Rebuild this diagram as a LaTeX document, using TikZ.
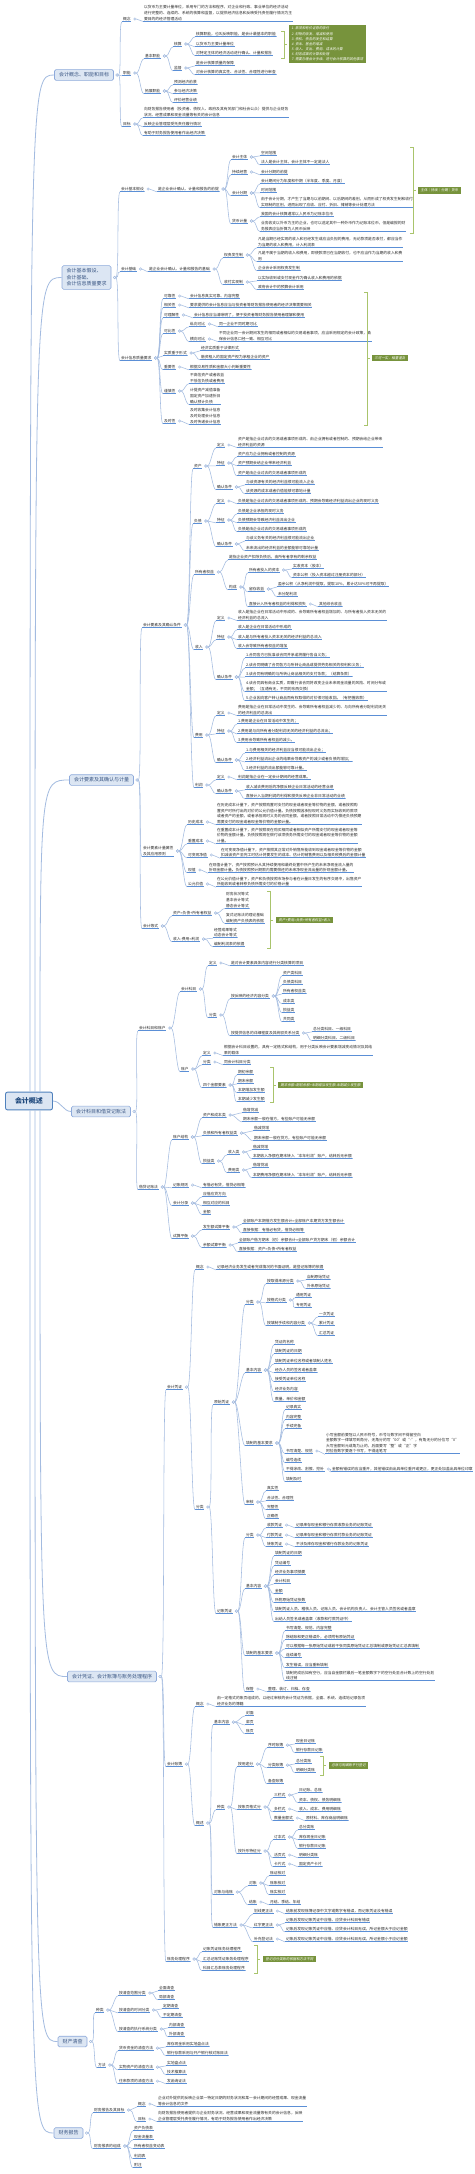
\documentclass[tikz,border=0pt]{standalone}
\usepackage{fontspec}
\newfontfamily\cjk{Noto Sans CJK SC}
\newfontfamily\cjki[FakeSlant=0.18]{Noto Sans CJK SC}
\definecolor{ulc}{HTML}{5B8FD6}
\definecolor{cnc}{HTML}{A3BBE0}
\definecolor{tpf}{HTML}{DCE6F3}
\definecolor{tpd}{HTML}{8EAADB}
\definecolor{tpt}{HTML}{3A5683}
\definecolor{rtd}{HTML}{4F81BD}
\definecolor{rtt}{HTML}{1F497D}
\definecolor{gbox}{HTML}{77933C}
\definecolor{brc}{HTML}{A9C46C}
\definecolor{txc}{HTML}{2B2B2B}
\tikzset{
 tx/.style={font=\cjk\fontsize{3.8}{5.6}\selectfont, text=txc, anchor=west, inner xsep=0.8pt, inner ysep=0.9pt, align=left,
   path picture={\draw[draw=ulc, line width=0.7pt] ([yshift=0.35pt]path picture bounding box.south west) -- ([yshift=0.35pt]path picture bounding box.south east);}},
 cnx/.style={draw=cnc, line width=0.55pt},
 mkr/.style={draw=cnc, line width=0.45pt, fill=white},
 topic/.style={draw=tpd, fill=tpf, rounded corners=1.5pt, font=\cjk\fontsize{5}{6.5}\selectfont, text=tpt, inner xsep=4.5pt, inner ysep=3pt, align=left, line width=0.6pt},
 rootn/.style={draw=rtd, line width=0.9pt, fill=tpf, rounded corners=2pt, font=\cjk\bfseries\fontsize{7}{8}\selectfont, text=rtt, inner xsep=9.5pt, inner ysep=5.5pt},
 lab/.style={fill=gbox, text=white, font=\cjki\fontsize{3.4}{5.1}\selectfont, inner xsep=2.5pt, inner ysep=1.8pt, anchor=west, align=left},
 brk/.style={draw=brc, line width=0.6pt},
 rc/.style={draw=cnc, line width=0.8pt},
}
\newcommand\MN[5]{\node[tx] (#1) at (#3,#4) {#5};\draw[cnx] ([xshift=4.6pt]#2.east) .. controls +(3.5,0) and +(-3.5,0) .. (#1.south west);\draw[mkr] ([xshift=3.3pt]#2.east) circle[radius=1.2pt];}
\newcommand\BR[4]{\draw[brk] (#1,#2) -- (#1+3,#2) -- (#1+3,#3) -- (#1,#3); \draw[brk] (#1+3,#4) -- (#1+6,#4);}
\begin{document}
\begin{tikzpicture}[x=1pt,y=-1pt]
\fill[white] (0,0) rectangle (474,2174);
\useasboundingbox (0,0) rectangle (474,2174);
% root and topics
\node[rootn] (root) at (29,1101) {会计概述};
\node[topic] (t1) at (84,75) {会计概念、职能和目标};
\node[topic] (t2) at (86.5,277.5) {会计基本假设、\\会计基础、\\会计信息质量要求};
\node[topic] (t3) at (101.5,780) {会计要素及其确认与计量};
\node[topic] (t4) at (101,1111.5) {会计科目和借贷记账法};
\node[topic] (t5) at (112,1676.5) {会计凭证、会计账簿与账务处理程序};
\node[topic] (t6) at (72.5,2041.5) {财产清查};
\node[topic] (t7) at (68.5,2133) {财务报告};
\coordinate (r1) at ([xshift=1pt]root.north);
\coordinate (r2) at ([xshift=6pt]root.north);
\coordinate (r3) at ([xshift=11pt]root.north);
\coordinate (r5) at ([xshift=11pt]root.south);
\coordinate (r6) at ([xshift=6pt]root.south);
\coordinate (r7) at ([xshift=1pt]root.south);
\draw[rc] (r1) .. controls (r1 |- t1.west) .. (t1.west);
\draw[rc] (r2) .. controls (r2 |- t2.west) .. (t2.west);
\draw[rc] (r3) .. controls (r3 |- t3.west) .. (t3.west);
\draw[rc] (root.east) .. controls +(8,0) and +(-8,0) .. (t4.west);
\draw[rc] (r5) .. controls (r5 |- t5.west) .. (t5.west);
\draw[rc] (r6) .. controls (r6 |- t6.west) .. (t6.west);
\draw[rc] (r7) .. controls (r7 |- t7.west) .. (t7.west);
% ---------- topic 1
\MN{a1}{t1}{122}{19}{概念}
\MN{a1c}{a1}{143}{13}{以货币为主要计量单位，采用专门的方法和程序，对企业和行政、事业单位的经济活动\\进行完整的、连续的、系统的核算和监督，以提供经济信息和反映受托责任履行情况为主\\要目的的经济管理活动}
\MN{a2}{t1}{122}{73}{职能}
\MN{a21}{a2}{144}{56}{基本职能}
\MN{a211}{a21}{173}{44}{核算}
\MN{a2111}{a211}{195}{34}{核算职能，也叫反映职能，是会计最基本的职能}
\MN{a2112}{a211}{195}{44}{以货币为主要计量单位}
\MN{a2113}{a211}{195}{53}{对特定主体的经济活动进行确认、计量和报告}
\MN{a212}{a21}{173}{68}{监督}
\MN{a2121}{a212}{195}{63}{是会计核算质量的保障}
\MN{a2122}{a212}{195}{72}{对会计核算的真实性、合法性、合理性进行审查}
\MN{a22}{a2}{144}{91}{拓展职能}
\MN{a221}{a22}{173}{82}{预测经济前景}
\MN{a222}{a22}{173}{91}{参与经济决策}
\MN{a223}{a22}{173}{100}{评价经营业绩}
\BR{281}{31}{58}{44}
\node[lab] (L1) at (289,44) {1.\ 款项和有价证券的收付\\2.\ 财物的收发、增减和使用\\3.\ 债权、债务的发生和结算\\4.\ 资本、基金的增减\\5.\ 收入、支出、费用、成本的计算\\6.\ 财务成果的计算和处理\\7.\ 需要办理会计手续、进行会计核算的其他事项};
\MN{a3}{t1}{122}{124}{目标}
\MN{a31}{a3}{143}{112}{向财务报告使用者（投资者、债权人、政府及其有关部门和社会公众）提供与企业财务\\状况、经营成果和现金流量等有关的会计信息}
\MN{a32}{a3}{143}{124}{反映企业管理层受托责任履行情况}
\MN{a33}{a3}{143}{133}{有助于财务报告使用者作出经济决策}
% ---------- topic 2
\MN{b1}{t2}{120}{189}{会计基本假设}
\MN{b1a}{b1}{157}{189}{是企业会计确认、计量和报告的前提}
\MN{b11}{b1a}{231}{157}{会计主体}
\MN{b111}{b11}{260}{153}{空间范围}
\MN{b112}{b11}{260}{162}{法人是会计主体，会计主体不一定是法人}
\MN{b12}{b1a}{231}{172}{持续经营}
\MN{b121}{b12}{260}{172}{会计分期的前提}
\MN{b13}{b1a}{231}{193}{会计分期}
\MN{b131}{b13}{260}{181}{会计期间分为年度和中期（半年度、季度、月度）}
\MN{b132}{b13}{260}{190}{时间范围}
\MN{b133}{b13}{260}{202}{由于会计分期，才产生了当期与以前期间、以后期间的差别，从而形成了权责发生制和收付\\实现制的区别，进而出现了应收、应付、折旧、摊销等会计处理方法}
\MN{b14}{b1a}{231}{221}{货币计量}
\MN{b141}{b14}{260}{214}{我国的会计核算通常以人民币为记账本位币}
\MN{b142}{b14}{260}{226}{业务收支以外币为主的企业，也可以选定其中一种外币作为记账本位币，但是编报的财\\务报表应当折算为人民币反映}
\BR{410}{147}{233}{190}
\node[lab] (L2) at (418,190) {主体｜持续｜分期｜货币};
\MN{b2}{t2}{120}{269}{会计基础}
\MN{b2a}{b2}{148}{269}{是企业会计确认、计量和报告的基础}
\MN{b21}{b2a}{223}{255}{权责发生制}
\MN{b211}{b21}{257}{242}{凡是当期已经实现的收入和已经发生或应当负担的费用，无论款项是否收付，都应当作\\为当期的收入和费用，计入利润表}
\MN{b212}{b21}{257}{256}{凡是不属于当期的收入和费用，即使款项已在当期收付，也不应当作为当期的收入和费\\用}
\MN{b213}{b21}{257}{268}{企业会计采用权责发生制}
\MN{b22}{b2a}{223}{282}{收付实现制}
\MN{b221}{b22}{257}{278}{以实际收到或支付现金作为确认收入和费用的依据}
\MN{b222}{b22}{257}{287}{政府会计中的预算会计采用}
\MN{b3}{t2}{120}{358}{会计信息质量要求}
\MN{b31}{b3}{163}{296}{可靠性}
\MN{b311}{b31}{189}{296}{会计信息真实可靠、内容完整}
\MN{b32}{b3}{163}{305}{相关性}
\MN{b321}{b32}{189}{305}{要求提供的会计信息应当与投资者等财务报告使用者的经济决策需要相关}
\MN{b33}{b3}{163}{315}{可理解性}
\MN{b331}{b33}{193}{315}{会计信息应当清晰明了，便于投资者等财务报告使用者理解和使用}
\MN{b34}{b3}{163}{331}{可比性}
\MN{b341}{b34}{189}{324}{纵向可比}
\MN{b3411}{b341}{218}{324}{同一企业不同时期可比}
\MN{b342}{b34}{189}{339}{横向可比}
\MN{b3421}{b342}{218}{336}{不同企业同一会计期间发生的相同或者相似的交易或者事项，应当采用规定的会计政策，确\\保会计信息口径一致、相互可比}
\MN{b35}{b3}{163}{353}{实质重于形式}
\MN{b351}{b35}{200}{348}{经济实质重于法律形式}
\MN{b352}{b35}{200}{357}{融资租入的固定资产视为承租企业的资产}
\MN{b36}{b3}{163}{367}{重要性}
\MN{b361}{b36}{189}{367}{根据交易性质和金额大小判断重要性}
\MN{b37}{b3}{163}{391}{谨慎性}
\MN{b371}{b37}{189}{378}{不高估资产或者收益\\不低估负债或者费用}
\MN{b372}{b37}{189}{396}{计提资产减值准备\\固定资产加速折旧\\确认预计负债}
\MN{b38}{b3}{163}{421}{及时性}
\MN{b381}{b38}{189}{416}{及时收集会计信息\\及时处理会计信息\\及时传递会计信息}
\BR{364}{292}{425}{358}
\node[lab] (L3) at (372,358) {三可一实，相重谨及};
% ---------- topic 3
\MN{c1}{t3}{142}{625}{会计要素及其确认条件}
\MN{c11}{c1}{193}{466}{资产}
\MN{c111}{c11}{216}{445}{定义}
\MN{c1111}{c111}{237}{442}{资产是指企业过去的交易或者事项形成的、由企业拥有或者控制的、预期会给企业带来\\经济利益的资源}
\MN{c112}{c11}{216}{463}{特征}
\MN{c1121}{c112}{237}{454}{资产应为企业拥有或者控制的资源}
\MN{c1122}{c112}{237}{463}{资产预期会给企业带来经济利益}
\MN{c1123}{c112}{237}{473}{资产是由企业过去的交易或者事项形成的}
\MN{c113}{c11}{216}{487}{确认条件}
\MN{c1131}{c113}{245}{482}{与该资源有关的经济利益很可能流入企业}
\MN{c1132}{c113}{245}{491}{该资源的成本或者价值能够可靠地计量}
\MN{c12}{c1}{193}{521}{负债}
\MN{c121}{c12}{216}{501}{定义}
\MN{c1211}{c121}{237}{501}{负债是指企业过去的交易或者事项形成的、预期会导致经济利益流出企业的现时义务}
\MN{c122}{c12}{216}{520}{特征}
\MN{c1221}{c122}{237}{511}{负债是企业承担的现时义务}
\MN{c1222}{c122}{237}{520}{负债预期会导致经济利益流出企业}
\MN{c1223}{c122}{237}{529}{负债是由企业过去的交易或者事项形成的}
\MN{c123}{c12}{216}{544}{确认条件}
\MN{c1231}{c123}{245}{538}{与该义务有关的经济利益很可能流出企业}
\MN{c1232}{c123}{245}{548}{未来流出的经济利益的金额能够可靠地计量}
\MN{c13}{c1}{194}{572}{所有者权益}
\MN{c131}{c13}{228}{557}{是指企业资产扣除负债后，由所有者享有的剩余权益}
\MN{c132}{c13}{228}{587}{构成}
\MN{c1321}{c132}{248}{570}{所有者投入的资本}
\MN{c13211}{c1321}{292}{566}{实收资本（股本）}
\MN{c13212}{c1321}{292}{575}{资本公积（投入资本超过注册资本的部分）}
\MN{c1322}{c132}{248}{589}{留存收益}
\MN{c13221}{c1322}{277}{584}{盈余公积（从净利润中提取，提取10\%，累计达50\%可不再提取）}
\MN{c13222}{c1322}{277}{594}{未分配利润}
\MN{c1323}{c132}{248}{604}{直接计入所有者权益的利得和损失}
\MN{c13231}{c1323}{318}{604}{其他综合收益}
\MN{c14}{c1}{194}{647}{收入}
\MN{c141}{c14}{216}{618}{定义}
\MN{c1411}{c141}{237}{615}{收入是指企业在日常活动中形成的、会导致所有者权益增加的、与所有者投入资本无关的\\经济利益的总流入}
\MN{c142}{c14}{216}{637}{特征}
\MN{c1421}{c142}{237}{627}{收入是企业在日常活动中形成的}
\MN{c1422}{c142}{237}{637}{收入是与所有者投入资本无关的经济利益的总流入}
\MN{c1423}{c142}{237}{646}{收入会导致所有者权益的增加}
\MN{c143}{c14}{216}{677}{确认条件}
\MN{c1431}{c143}{245}{655}{1.合同各方已批准该合同并承诺将履行各自义务；}
\MN{c1432}{c143}{245}{665}{2.该合同明确了合同各方与所转让商品或提供劳务相关的权利和义务；}
\MN{c1433}{c143}{245}{674}{3.该合同有明确的与所转让商品相关的支付条款；（结算条款）}
\MN{c1434}{c143}{245}{686}{4.该合同具有商业实质，即履行该合同将改变企业未来现金流量的风险、时间分布或\\金额；（互通有无，不同的东西交换）}
\MN{c1435}{c143}{245}{698}{5.企业因向客户转让商品而有权取得的对价很可能收回。（有把握收款）}
\MN{c15}{c1}{194}{735}{费用}
\MN{c151}{c15}{216}{713}{定义}
\MN{c1511}{c151}{237}{710}{费用是指企业在日常活动中发生的、会导致所有者权益减少的、与向所有者分配利润无关\\的经济利益的总流出}
\MN{c152}{c15}{216}{731}{特征}
\MN{c1521}{c152}{237}{721}{1.费用是企业在日常活动中发生的；}
\MN{c1522}{c152}{237}{731}{2.费用是与向所有者分配利润无关的经济利益的总流出；}
\MN{c1523}{c152}{237}{740}{3.费用会导致所有者权益的减少。}
\MN{c153}{c15}{216}{760}{确认条件}
\MN{c1531}{c153}{245}{750}{1.与费用相关的经济利益应当很可能流出企业；}
\MN{c1532}{c153}{245}{759}{2.经济利益流出企业的结果会导致资产的减少或者负债的增加；}
\MN{c1533}{c153}{245}{768}{3.经济利益的流出额能够可靠计量。}
\MN{c16}{c1}{194}{785}{利润}
\MN{c161}{c16}{216}{777}{定义}
\MN{c1611}{c161}{237}{777}{利润是指企业在一定会计期间的经营成果。}
\MN{c162}{c16}{216}{791}{确认条件}
\MN{c1621}{c162}{245}{787}{收入减去费用后的净额反映企业日常活动的经营业绩}
\MN{c1622}{c162}{245}{796}{直接计入当期利润的利得和损失反映企业非日常活动的业绩}
\MN{c2}{t3}{142}{851}{会计要素计量属性\\及其应用原则}
\MN{c21}{c2}{187}{822}{历史成本}
\MN{c211}{c21}{216}{813.5}{在历史成本计量下，资产按照购置时支付的现金或者现金等价物的金额，或者按照购\\置资产时所付出的对价的公允价值计量。负债按照因承担现时义务而实际收到的款项\\或者资产的金额，或者承担现时义务的合同金额，或者按照日常活动中为偿还负债预期\\需要支付的现金或者现金等价物的金额计量。}
\MN{c22}{c2}{187}{841}{重置成本}
\MN{c221}{c22}{216}{835.5}{在重置成本计量下，资产按照现在购买相同或者相似资产所需支付的现金或者现金等\\价物的金额计量。负债按照现在偿付该项债务所需支付的现金或者现金等价物的金额\\计量。}
\MN{c23}{c2}{187}{855}{可变现净值}
\MN{c231}{c23}{220}{852.5}{在可变现净值计量下，资产按照其正常对外销售所能收到现金或者现金等价物的金额\\扣减该资产至完工时估计将要发生的成本、估计的销售费用以及相关税费后的金额计量}
\MN{c24}{c2}{187}{870}{现值}
\MN{c241}{c24}{208}{867.5}{在现值计量下，资产按照预计从其持续使用和最终处置中所产生的未来净现金流入量的\\折现金额计量。负债按照预计期限内需要偿还的未来净现金流出量的折现金额计量。}
\MN{c25}{c2}{187}{884}{公允价值}
\MN{c251}{c25}{216}{881.5}{在公允价值计量下，资产和负债按照市场参与者在计量日发生的有序交易中，出售资产\\所能收到或者转移负债所需支付的价格计量}
\MN{c3}{t3}{142}{926}{会计等式}
\MN{c31}{c3}{172}{913}{资产=负债+所有者权益}
\MN{c311}{c31}{225}{900}{财务状况等式\\基本会计等式\\静态会计等式}
\MN{c312}{c31}{225}{918}{复式记账法的理论基础\\编制资产负债表的依据}
\MN{c32}{c3}{172}{939}{收入-费用=利润}
\MN{c321}{c32}{213}{932.5}{经营成果等式\\动态会计等式}
\MN{c322}{c32}{213}{944}{编制利润表的依据}
\BR{267}{891}{948}{920}
\node[lab] (L4) at (276,920) {资产+费用=负债+所有者权益+收入};
% ---------- topic 4
\MN{d1}{t4}{138}{1028}{会计科目和账户}
\MN{d11}{d1}{180}{989}{会计科目}
\MN{d111}{d11}{208}{963}{定义}
\MN{d1111}{d111}{230}{963}{是对会计要素具体内容进行分类核算的项目}
\MN{d112}{d11}{208}{1015}{分类}
\MN{d1121}{d112}{230}{996}{按反映的经济内容分类}
\MN{d11211}{d1121}{282}{973}{资产类科目}
\MN{d11212}{d1121}{282}{982}{负债类科目}
\MN{d11213}{d1121}{282}{991}{所有者权益类}
\MN{d11214}{d1121}{282}{1001}{成本类}
\MN{d11215}{d1121}{282}{1010}{损益类}
\MN{d11216}{d1121}{282}{1019}{共同类}
\MN{d1122}{d112}{230}{1033}{按提供信息的详细程度及其统驭关系分类}
\MN{d11221}{d1122}{312}{1029}{总分类科目、一级科目}
\MN{d11222}{d1122}{312}{1038}{明细分类科目、二级科目}
\MN{d12}{d1}{180}{1069}{账户}
\MN{d121}{d12}{202}{1053}{定义}
\MN{d1211}{d121}{223}{1050}{根据会计科目设置的，具有一定格式和结构，用于分类反映会计要素增减变动情况及其结\\果的载体}
\MN{d122}{d12}{202}{1062}{分类}
\MN{d1221}{d122}{223}{1062}{同会计科目分类}
\MN{d123}{d12}{202}{1085}{四个金额要素}
\MN{d1231}{d123}{237}{1072}{期初余额}
\MN{d1232}{d123}{237}{1081}{期末余额}
\MN{d1233}{d123}{237}{1090}{本期增加发生额}
\MN{d1234}{d123}{237}{1099}{本期减少发生额}
\BR{270}{1067}{1102}{1085}
\node[lab] (L5) at (278,1085) {期末余额=期初余额+本期增加发生额-本期减少发生额};
\MN{d2}{t4}{138}{1187}{借贷记账法}
\MN{d21}{d2}{172}{1137}{账户结构}
\MN{d211}{d21}{202}{1115}{资产和成本类}
\MN{d2111}{d211}{242}{1110}{借增贷减}
\MN{d2112}{d211}{242}{1119}{期末余额一般在借方，有些账户可能无余额}
\MN{d212}{d21}{202}{1133}{负债和所有者权益类}
\MN{d2121}{d212}{253}{1128}{借减贷增}
\MN{d2122}{d212}{253}{1138}{期末余额一般在贷方，有些账户可能无余额}
\MN{d213}{d21}{202}{1161}{损益类}
\MN{d2131}{d213}{227}{1152}{收入类}
\MN{d21311}{d2131}{252}{1147}{借减贷增}
\MN{d21312}{d2131}{252}{1156}{本期收入净额在期末转入“本年利润”账户，结转后无余额}
\MN{d2132}{d213}{227}{1170}{费用类}
\MN{d21321}{d2132}{252}{1165}{借增贷减}
\MN{d21322}{d2132}{252}{1175}{本期费用净额在期末转入“本年利润”账户，结转后无余额}
\MN{d22}{d2}{172}{1185}{记账规则}
\MN{d221}{d22}{202}{1185}{有借必有贷，借贷必相等}
\MN{d23}{d2}{172}{1203}{会计分录}
\MN{d231}{d23}{202}{1194}{应借应贷方向}
\MN{d232}{d23}{202}{1203}{相互对应的科目}
\MN{d233}{d23}{202}{1212}{金额}
\MN{d24}{d2}{172}{1236}{试算平衡}
\MN{d241}{d24}{202}{1227}{发生额试算平衡}
\MN{d2411}{d241}{242}{1221}{全部账户本期借方发生额合计=全部账户本期贷方发生额合计}
\MN{d2412}{d241}{242}{1230}{直接依据：有借必有贷，借贷必相等}
\MN{d242}{d24}{202}{1245}{余额试算平衡}
\MN{d2421}{d242}{238}{1240}{全部账户借方期末（初）余额合计=全部账户贷方期末（初）余额合计}
\MN{d2422}{d242}{238}{1249}{直接依据：资产=负债+所有者权益}
% ---------- topic 5
\MN{e0}{t5}{166}{1387}{会计凭证}
\MN{e1}{e0}{195}{1267}{概念}
\MN{e11}{e1}{216}{1267}{记录经济业务发生或者完成情况的书面证明，是登记账簿的依据}
\MN{e2}{e0}{195}{1507}{分类}
\MN{e21}{e2}{213}{1402}{原始凭证}
\MN{e211}{e21}{245}{1302}{分类}
\MN{e2111}{e211}{266}{1281}{按取得来源分类}
\MN{e21111}{e2111}{306}{1277}{自制原始凭证}
\MN{e21112}{e2111}{306}{1286}{外来原始凭证}
\MN{e2112}{e211}{266}{1300}{按格式分类}
\MN{e21121}{e2112}{295}{1295}{通用凭证}
\MN{e21122}{e2112}{295}{1305}{专用凭证}
\MN{e2113}{e211}{266}{1323}{按填制手续和内容分类}
\MN{e21131}{e2113}{318}{1314}{一次凭证}
\MN{e21132}{e2113}{318}{1323}{累计凭证}
\MN{e21133}{e2113}{318}{1333}{汇总凭证}
\MN{e212}{e21}{245}{1370}{基本内容}
\MN{e2121}{e212}{274}{1342}{凭证的名称}
\MN{e2122}{e212}{274}{1351}{填制凭证的日期}
\MN{e2123}{e212}{274}{1361}{填制凭证单位名称或者填制人姓名}
\MN{e2124}{e212}{274}{1370}{经办人员的签名或者盖章}
\MN{e2125}{e212}{274}{1379}{接受凭证单位名称}
\MN{e2126}{e212}{274}{1389}{经济业务内容}
\MN{e2127}{e212}{274}{1399}{数量、单价和金额}
\MN{e213}{e21}{245}{1443}{填制的基本要求}
\MN{e2131}{e213}{285}{1407}{记录真实}
\MN{e2132}{e213}{285}{1417}{内容完整}
\MN{e2133}{e213}{285}{1426}{手续完备}
\MN{e2134}{e213}{285}{1451}{书写清楚、规范}
\MN{e21341}{e2134}{325}{1443}{小写金额前要冠以人民币符号，币号与数字间不得留空白\\金额数字一律填写到角分，无角分的写“00”或“-”，有角无分的分位写“0”\\大写金额到元或角为止的，后面要写“整”或“正”字\\阿拉伯数字要逐个书写，不得连笔写}
\MN{e2135}{e213}{285}{1460}{编号连续}
\MN{e2136}{e213}{285}{1469}{不得涂改、刮擦、挖补}
\MN{e21361}{e2136}{331}{1469}{金额有错误的应当重开，其他错误由出具单位重开或更正，更正处加盖出具单位印章}
\MN{e2137}{e213}{285}{1479}{填制及时}
\MN{e214}{e21}{245}{1502}{审核}
\MN{e2141}{e214}{266}{1488}{真实性}
\MN{e2142}{e214}{266}{1498}{合法性、合理性}
\MN{e2143}{e214}{266}{1507}{完整性}
\MN{e2144}{e214}{266}{1516}{正确性}
\MN{e22}{e2}{216}{1611}{记账凭证}
\MN{e221}{e22}{245}{1535}{分类}
\MN{e2211}{e221}{266}{1525}{收款凭证}
\MN{e22111}{e2211}{295}{1525}{记录库存现金和银行存款收款业务的记账凭证}
\MN{e2212}{e221}{266}{1535}{付款凭证}
\MN{e22121}{e2212}{295}{1535}{记录库存现金和银行存款付款业务的记账凭证}
\MN{e2213}{e221}{266}{1544}{转账凭证}
\MN{e22131}{e2213}{295}{1544}{不涉及库存现金和银行存款业务的记账凭证}
\MN{e222}{e22}{245}{1586}{基本内容}
\MN{e2221}{e222}{274}{1553}{填制凭证的日期}
\MN{e2222}{e222}{274}{1563}{凭证编号}
\MN{e2223}{e222}{274}{1572}{经济业务事项摘要}
\MN{e2224}{e222}{274}{1581}{会计科目}
\MN{e2225}{e222}{274}{1591}{金额}
\MN{e2226}{e222}{274}{1600}{所附原始凭证张数}
\MN{e2227}{e222}{274}{1609}{填制凭证人员、稽核人员、记账人员、会计机构负责人、会计主管人员签名或者盖章}
\MN{e2228}{e222}{274}{1619}{出纳人员签名或者盖章（收款和付款凭证中）}
\MN{e223}{e22}{245}{1653}{填制的基本要求}
\MN{e2231}{e223}{285}{1628}{书写清楚、规范、内容完整}
\MN{e2232}{e223}{285}{1637}{除结账和更正错误外，必须附有原始凭证}
\MN{e2233}{e223}{285}{1646}{可以根据每一张原始凭证或若干张同类原始凭证汇总填制或原始凭证汇总表填制}
\MN{e2234}{e223}{285}{1655}{连续编号}
\MN{e2235}{e223}{285}{1665}{发生错误，应当重新填制}
\MN{e2236}{e223}{285}{1675.5}{填制完成后如有空行，应当自金额栏最后一笔金额数字下的空行处至合计数上的空行处划\\线注销}
\MN{e224}{e22}{245}{1689}{保管}
\MN{e2241}{e224}{267}{1689}{整理、装订、归档、存查}
\MN{f0}{t5}{166}{1764}{会计账簿}
\MN{f1}{f0}{195}{1704}{概念}
\MN{f11}{f1}{216}{1701}{由一定格式的账页组成的，以经过审核的会计凭证为依据，全面、系统、连续地记录各项\\经济业务的簿籍}
\MN{f2}{f0}{195}{1823}{概述}
\MN{f21}{f2}{213}{1722}{基本内容}
\MN{f211}{f21}{245}{1713}{封面}
\MN{f212}{f21}{245}{1722}{扉页}
\MN{f213}{f21}{245}{1731}{账页}
\MN{f22}{f2}{216}{1807}{种类}
\MN{f221}{f22}{237}{1764}{按用途分}
\MN{f2211}{f221}{267}{1745}{序时账簿}
\MN{f22111}{f2211}{295}{1741}{现金日记账}
\MN{f22112}{f2211}{295}{1750}{银行存款日记账}
\MN{f2212}{f221}{267}{1765}{分类账簿}
\MN{f22121}{f2212}{295}{1761}{总分类账}
\MN{f22122}{f2212}{295}{1770}{明细分类账}
\BR{320}{1756}{1775}{1765.5}
\node[lab] (L6) at (329,1765.5) {总账与明细账平行登记};
\MN{f2213}{f221}{267}{1781}{备查账簿}
\MN{f222}{f22}{237}{1807}{按账页格式分}
\MN{f2221}{f222}{273}{1795}{三栏式}
\MN{f22211}{f2221}{298}{1790}{日记账、总账}
\MN{f22212}{f2221}{298}{1800}{资本、债权、债务明细账}
\MN{f2222}{f222}{273}{1809}{多栏式}
\MN{f22221}{f2222}{298}{1809}{收入、成本、费用明细账}
\MN{f2223}{f222}{273}{1818}{数量金额式}
\MN{f22231}{f2223}{305}{1818}{原材料、库存商品明细账}
\MN{f223}{f22}{237}{1851}{按外形特征分}
\MN{f2231}{f223}{273}{1837}{订本式}
\MN{f22311}{f2231}{298}{1827}{总分类账}
\MN{f22312}{f2231}{298}{1837}{库存现金日记账}
\MN{f22313}{f2231}{298}{1846}{银行存款日记账}
\MN{f2232}{f223}{273}{1855}{活页式}
\MN{f22321}{f2232}{298}{1855}{明细分类账}
\MN{f2233}{f223}{273}{1864}{卡片式}
\MN{f22331}{f2233}{298}{1864}{固定资产卡片}
\MN{f23}{f2}{213}{1892}{对账与结账}
\MN{f231}{f23}{248}{1883}{对账}
\MN{f2311}{f231}{269}{1873}{账证核对}
\MN{f2312}{f231}{269}{1883}{账账核对}
\MN{f2313}{f231}{269}{1892}{账实核对}
\MN{f232}{f23}{248}{1902}{结账}
\MN{f2321}{f232}{269}{1902}{月结、季结、年结}
\MN{f24}{f2}{213}{1925}{错账更正方法}
\MN{f241}{f24}{253}{1911}{划线更正法}
\MN{f2411}{f241}{285}{1911}{结账前发现账簿记录中文字或数字有错误，而记账凭证没有错误}
\MN{f242}{f24}{253}{1925}{红字更正法}
\MN{f2421}{f242}{285}{1920}{记账后发现记账凭证中应借、应贷会计科目有错误}
\MN{f2422}{f242}{285}{1929}{记账后发现记账凭证中应借、应贷会计科目无误，所记金额大于应记金额}
\MN{f243}{f24}{253}{1939}{补充登记法}
\MN{f2431}{f243}{285}{1939}{记账后发现记账凭证中应借、应贷会计科目无误，所记金额小于应记金额}
\MN{g0}{t5}{166}{1959}{账务处理程序}
\MN{g01}{g0}{202}{1949}{记账凭证账务处理程序}
\MN{g02}{g0}{202}{1959}{汇总记账凭证账务处理程序}
\MN{g03}{g0}{202}{1968}{科目汇总表账务处理程序}
\BR{254}{1945}{1973}{1959}
\node[lab] (L7) at (263,1959) {登记总分类账的依据和方法不同};
% ---------- topic 6
\MN{h1}{t6}{95}{2010}{种类}
\MN{h11}{h1}{118}{1993}{按清查范围分类}
\MN{h111}{h11}{158}{1988}{全面清查}
\MN{h112}{h11}{158}{1997}{局部清查}
\MN{h12}{h1}{118}{2010}{按清查的时间分类}
\MN{h121}{h12}{162}{2006}{定期清查}
\MN{h122}{h12}{162}{2015}{不定期清查}
\MN{h13}{h1}{118}{2029}{按清查的执行系统分类}
\MN{h131}{h13}{168}{2025}{内部清查}
\MN{h132}{h13}{168}{2034}{外部清查}
\MN{h2}{t6}{97}{2065}{方法}
\MN{h21}{h2}{118}{2048}{货币资金的清查方法}
\MN{h211}{h21}{166}{2044}{库存现金采用实地盘点法}
\MN{h212}{h21}{166}{2053}{银行存款采用与开户银行核对账目法}
\MN{h22}{h2}{118}{2067}{实物资产的清查方法}
\MN{h221}{h22}{166}{2063}{实地盘点法}
\MN{h222}{h22}{166}{2072}{技术推算法}
\MN{h23}{h2}{118}{2081}{往来款项的清查方法}
\MN{h231}{h23}{166}{2081}{发函询证法}
% ---------- topic 7
\MN{i1}{t7}{93}{2110}{财务报告及其目标}
\MN{i11}{i1}{137}{2104}{概念}
\MN{i111}{i11}{157}{2101}{企业对外提供的反映企业某一特定日期的财务状况和某一会计期间的经营成果、现金流量\\等会计信息的文件}
\MN{i12}{i1}{137}{2119}{目标}
\MN{i121}{i12}{157}{2116}{向财务报告使用者提供与企业财务状况、经营成果和现金流量等有关的会计信息，反映\\企业管理层受托责任履行情况，有助于财务报告使用者作出经济决策}
\MN{i2}{t7}{93}{2146}{财务报表的组成}
\MN{i21}{i2}{133}{2128}{资产负债表}
\MN{i22}{i2}{133}{2137}{现金流量表}
\MN{i23}{i2}{133}{2146}{所有者权益变动表}
\MN{i24}{i2}{133}{2156}{利润表}
\MN{i25}{i2}{133}{2165}{附注}
\end{tikzpicture}
\end{document}
